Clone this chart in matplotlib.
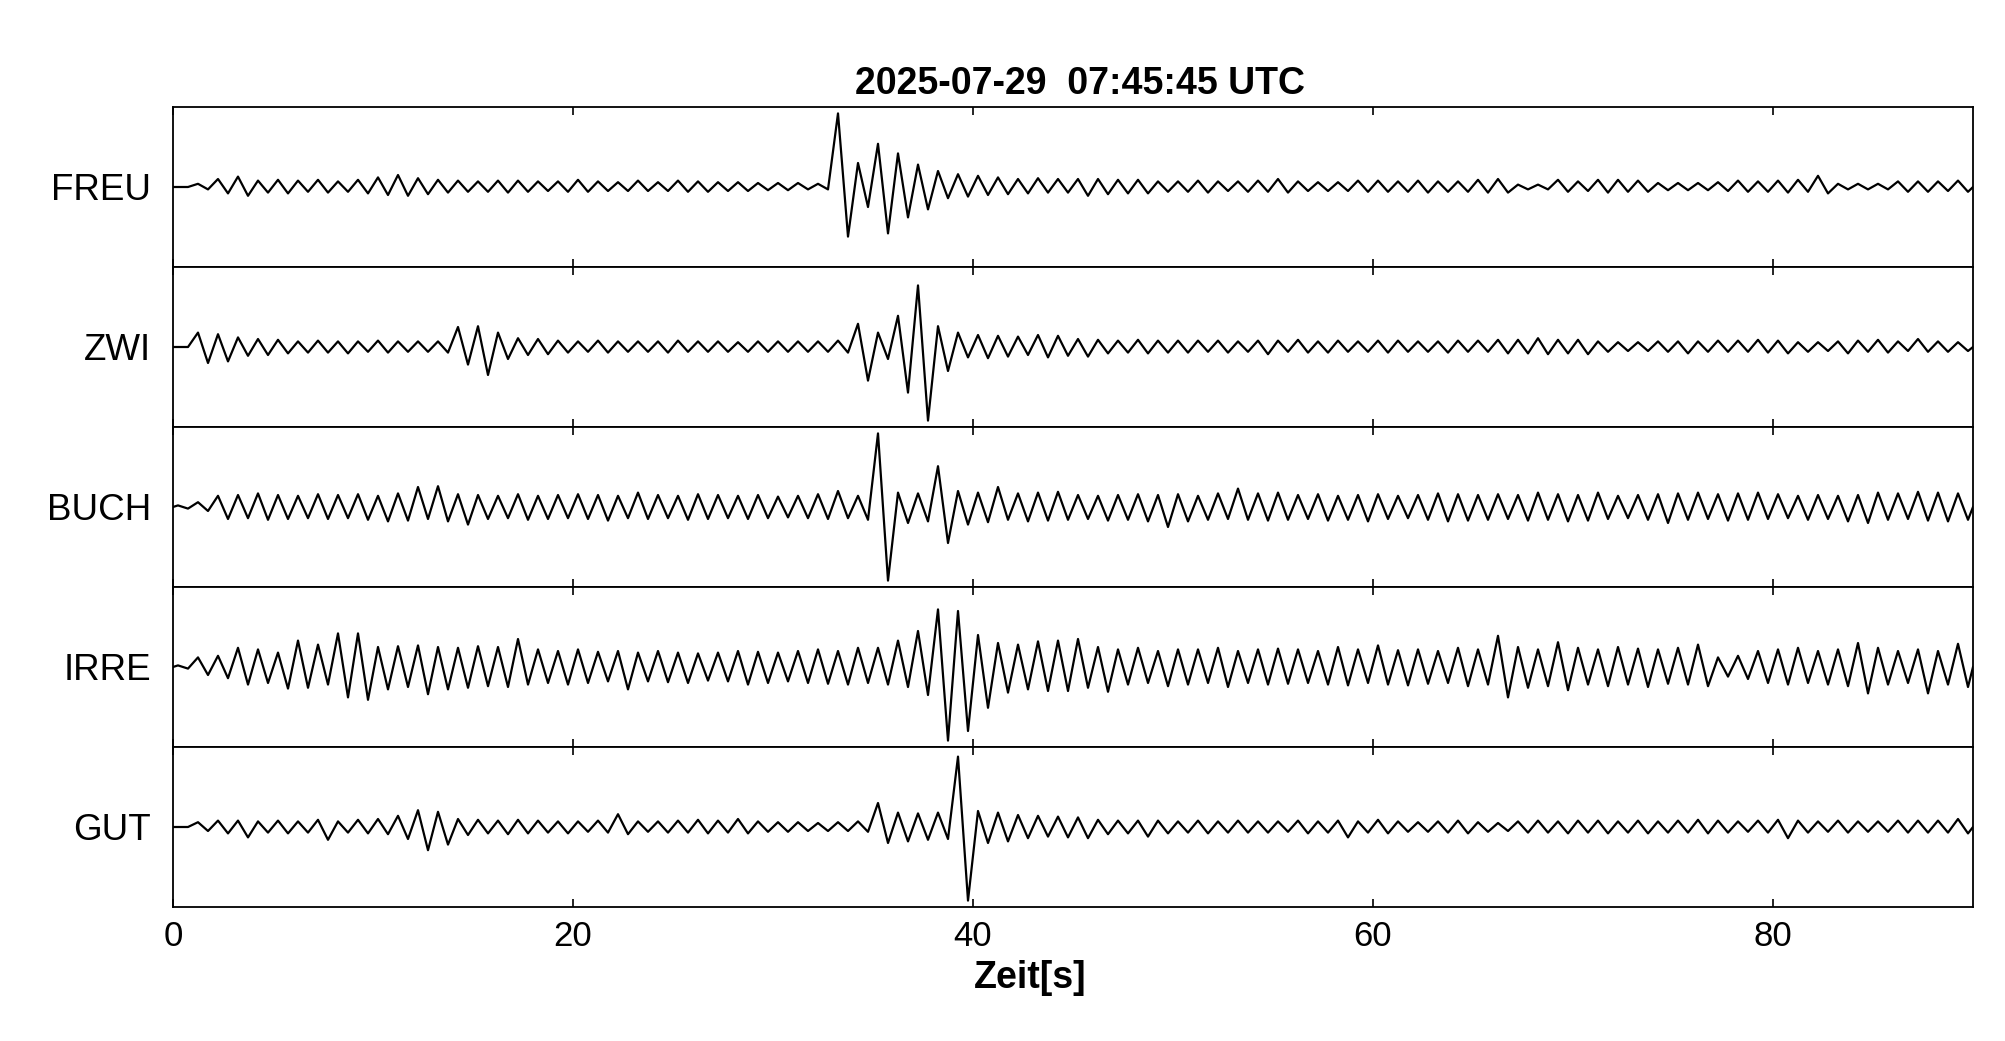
import matplotlib
matplotlib.use("Agg")
import matplotlib.pyplot as plt
import numpy as np

plt.rcParams['font.family'] = ['Liberation Sans', 'DejaVu Sans']

title = "2025-07-29  07:45:45 UTC"
xlabel = "Zeit[s]"
stations = ["FREU", "ZWI", "BUCH", "IRRE", "GUT"]
xticks = [0, 20, 40, 60, 80]

# Per-second upper / lower trace extremes (percent of panel half-height)
FREU_hi = [0, 4, 10, 13, 8, 9, 8, 9, 7, 9, 12, 15, 11, 9, 8, 7, 8, 8, 7, 7,
           9, 7, 6, 8, 6, 8, 7, 6, 6, 5, 5, 5, 4, 92, 30, 54, 42, 28, 20, 16,
           14, 12, 10, 11, 10, 10, 10, 9, 9, 7, 7, 8, 7, 7, 8, 10, 7, 6, 6, 8,
           8, 7, 8, 7, 7, 9, 10, 3, 3, 9, 7, 9, 9, 8, 5, 5, 5, 6, 8, 7,
           8, 9, 14, 4, 4, 4, 7, 7, 7, 8]
FREU_lo = [0, -3, -8, -11, -7, -8, -6, -7, -6, -8, -10, -11, -9, -7, -6, -6, -7, -6, -5, -6,
           -6, -5, -5, -5, -5, -6, -6, -5, -5, -4, -4, -3, -3, -62, -25, -58, -38, -28, -14, -12,
           -10, -9, -8, -7, -7, -11, -9, -8, -8, -6, -6, -7, -5, -6, -6, -7, -5, -5, -5, -6,
           -6, -6, -7, -6, -6, -7, -7, -3, -3, -6, -5, -7, -6, -6, -4, -4, -4, -5, -6, -6,
           -7, -6, -8, -3, -3, -3, -6, -6, -5, -6]

ZWI_hi = [0, 18, 16, 12, 10, 9, 7, 8, 7, 7, 8, 7, 7, 7, 25, 26, 18, 11, 10, 8,
          7, 8, 7, 7, 7, 8, 7, 7, 6, 7, 7, 7, 7, 8, 29, 18, 39, 77, 26, 18,
          15, 14, 13, 15, 14, 10, 9, 8, 9, 8, 8, 8, 8, 7, 8, 8, 9, 7, 8, 7,
          8, 8, 7, 7, 8, 8, 9, 9, 11, 9, 9, 7, 6, 6, 7, 7, 7, 8, 8, 9,
          8, 6, 6, 7, 8, 9, 7, 10, 7, 6]
ZWI_lo = [0, -20, -18, -11, -10, -8, -7, -7, -8, -6, -7, -6, -6, -7, -22, -35, -15, -10, -9, -7,
          -6, -7, -6, -6, -7, -6, -6, -6, -6, -6, -6, -6, -6, -7, -42, -15, -57, -92, -30, -13,
          -14, -12, -10, -13, -11, -12, -8, -7, -8, -7, -7, -6, -7, -6, -9, -6, -7, -7, -6, -6,
          -7, -6, -6, -7, -6, -6, -8, -8, -9, -8, -9, -6, -5, -5, -6, -8, -6, -6, -6, -7,
          -8, -6, -5, -8, -6, -7, -5, -6, -6, -5]

BUCH_hi = [2, 6, 14, 15, 17, 15, 14, 16, 15, 16, 14, 17, 25, 26, 16, 15, 14, 16, 14, 15,
           16, 15, 14, 18, 15, 14, 16, 15, 14, 15, 13, 14, 16, 20, 14, 92, 18, 17, 51, 20,
           18, 25, 17, 18, 19, 15, 14, 15, 16, 15, 16, 14, 17, 23, 17, 18, 15, 16, 14, 15,
           16, 14, 15, 17, 16, 15, 16, 15, 18, 16, 15, 18, 14, 15, 16, 17, 18, 16, 17, 18,
           16, 14, 15, 14, 15, 18, 17, 19, 18, 17]
BUCH_lo = [-2, -5, -15, -14, -16, -15, -14, -15, -14, -16, -18, -17, -15, -18, -22, -15, -14, -16, -15, -14,
           -15, -17, -14, -15, -14, -16, -15, -14, -15, -14, -13, -14, -15, -14, -16, -92, -20, -18, -45, -22,
           -19, -16, -18, -17, -16, -15, -17, -16, -18, -25, -18, -16, -15, -16, -17, -16, -15, -17, -16, -18,
           -15, -14, -16, -18, -17, -16, -15, -17, -16, -18, -17, -15, -14, -16, -20, -16, -15, -17, -16, -15,
           -14, -16, -15, -18, -20, -16, -15, -17, -18, -16]

IRRE_hi = [2, 12, 14, 24, 22, 18, 33, 28, 42, 42, 25, 26, 27, 25, 24, 26, 25, 35, 22, 20,
           22, 19, 20, 18, 20, 18, 17, 18, 20, 19, 18, 20, 22, 20, 24, 24, 33, 45, 72, 70,
           40, 30, 28, 32, 33, 35, 25, 22, 24, 20, 22, 22, 24, 20, 22, 23, 22, 20, 25, 22,
           27, 21, 22, 20, 24, 22, 39, 25, 22, 31, 24, 22, 25, 23, 22, 24, 28, 12, 14, 20,
           22, 24, 20, 22, 30, 24, 20, 22, 20, 29]
IRRE_lo = [-2, -10, -14, -22, -20, -27, -26, -22, -38, -41, -28, -25, -34, -28, -26, -24, -25, -22, -20, -22,
           -20, -18, -28, -18, -19, -20, -17, -18, -22, -20, -18, -20, -21, -22, -20, -22, -25, -35, -92, -80,
           -51, -32, -28, -30, -30, -26, -31, -22, -20, -24, -22, -20, -25, -20, -22, -21, -20, -22, -23, -20,
           -22, -23, -21, -20, -24, -22, -38, -26, -24, -29, -22, -24, -22, -25, -21, -22, -24, -12, -15, -20,
           -22, -20, -22, -24, -33, -22, -20, -33, -22, -25]

GUT_hi = [0, 6, 8, 8, 7, 8, 7, 9, 7, 9, 10, 14, 21, 19, 10, 9, 8, 9, 8, 7,
          7, 8, 16, 7, 7, 8, 9, 8, 10, 7, 6, 6, 5, 6, 7, 30, 18, 17, 18, 88,
          20, 18, 15, 14, 13, 12, 9, 8, 8, 8, 7, 8, 7, 8, 7, 7, 8, 7, 8, 7,
          9, 7, 6, 7, 8, 6, 5, 7, 8, 7, 8, 8, 7, 8, 7, 8, 9, 8, 7, 8,
          9, 8, 7, 8, 7, 7, 8, 8, 8, 10]
GUT_lo = [0, -5, -8, -13, -7, -8, -7, -16, -7, -8, -9, -15, -29, -22, -10, -8, -9, -8, -7, -8,
          -6, -7, -9, -6, -7, -7, -8, -7, -8, -6, -6, -5, -5, -5, -6, -20, -18, -16, -15, -92,
          -20, -18, -14, -12, -13, -14, -9, -8, -12, -8, -7, -8, -7, -7, -7, -6, -8, -7, -13, -7,
          -8, -6, -6, -7, -8, -6, -5, -7, -7, -8, -7, -8, -7, -8, -7, -7, -8, -7, -6, -7,
          -14, -7, -6, -7, -6, -6, -7, -7, -7, -8]

traces = {
    "FREU": (FREU_hi, FREU_lo),
    "ZWI": (ZWI_hi, ZWI_lo),
    "BUCH": (BUCH_hi, BUCH_lo),
    "IRRE": (IRRE_hi, IRRE_lo),
    "GUT": (GUT_hi, GUT_lo),
}

fig = plt.figure(figsize=(20.05, 10.41), dpi=100)
left, right = 173 / 2005, 1973 / 2005
top, bottom = 1 - 107 / 1041, 1 - 907 / 1041
gs = fig.add_gridspec(len(stations), 1, left=left, right=right, top=top, bottom=bottom, hspace=0)

for k, name in enumerate(stations):
    ax = fig.add_subplot(gs[k, 0])
    hi, lo = traces[name]
    n = len(hi)
    t = np.empty(2 * n + 2)
    y = np.empty(2 * n + 2)
    t[0], y[0] = 0.0, 0.0
    t[1:-1:2] = np.arange(n) + 0.25
    t[2:-1:2] = np.arange(n) + 0.75
    y[1:-1:2] = hi
    y[2:-1:2] = lo
    t[-1], y[-1] = float(n), 0.0
    ax.plot(t, y, color='black', lw=1.6)
    ax.set_xlim(0, 90)
    ax.set_ylim(-100, 100)
    ax.set_yticks([])
    ax.set_xticks(xticks)
    ax.tick_params(axis='x', direction='in', top=True, bottom=True, length=6, width=1.2,
                   labelsize=25, pad=9, labelbottom=(k == len(stations) - 1))
    for s in ax.spines.values():
        s.set_linewidth(1.3)
    ax.text(-0.0122, 0.48, name, transform=ax.transAxes, ha='right', va='center', fontsize=26.5)

fig.text(1080 / 2005, 1 - 84.5 / 1041, title, ha='center', va='center',
         fontsize=27, fontweight='bold')
fig.text(1030 / 2005, 1 - 978.5 / 1041, xlabel, ha='center', va='center',
         fontsize=27, fontweight='bold')

fig.savefig("out.png", dpi=100)
